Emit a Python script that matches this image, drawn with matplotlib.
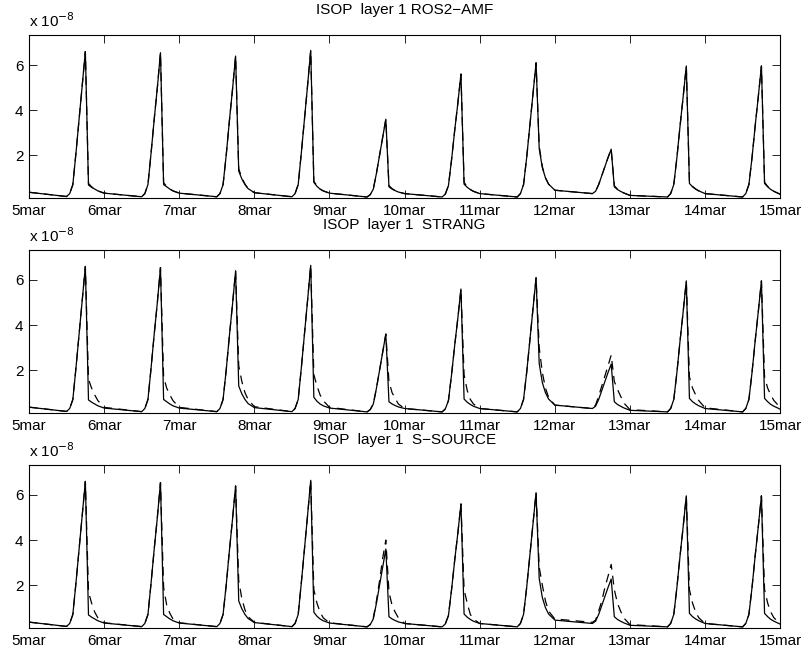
import numpy as np
import matplotlib.pyplot as plt

plt.rcParams['font.family'] = ['Liberation Sans', 'DejaVu Sans']

# sample hours within each day (5mar .. 14mar), values in units of 1e-8
HOURS = [0, 12, 13, 14, 15, 16, 17, 18, 19, 20, 21, 22]
DAY_LABELS = ['5mar', '6mar', '7mar', '8mar', '9mar', '10mar',
              '11mar', '12mar', '13mar', '14mar', '15mar']
TITLES = ['ISOP  layer 1 ROS2\u2212AMF',
          'ISOP  layer 1  STRANG',
          'ISOP  layer 1  S\u2212SOURCE']

# reference solution (solid line, same in every panel)
ref = [0.36, 0.17, 0.3, 0.7, 2.1, 3.6, 5.1, 6.6, 0.68, 0.58, 0.5, 0.42,
       0.32, 0.16, 0.3, 0.7, 2.1, 3.6, 5.0, 6.55, 0.7, 0.6, 0.5, 0.42,
       0.32, 0.16, 0.3, 0.7, 2.0, 3.5, 4.9, 6.4, 1.3, 0.95, 0.7, 0.52,
       0.34, 0.16, 0.3, 0.7, 2.1, 3.6, 5.1, 6.65, 0.8, 0.62, 0.5, 0.42,
       0.32, 0.15, 0.25, 0.5, 1.2, 2.0, 2.8, 3.6, 0.6, 0.5, 0.43, 0.37,
       0.3, 0.15, 0.28, 0.65, 1.8, 3.1, 4.3, 5.6, 0.72, 0.58, 0.48, 0.4,
       0.3, 0.15, 0.3, 0.7, 1.9, 3.3, 4.7, 6.1, 2.3, 1.45, 1.0, 0.72,
       0.45, 0.3, 0.4, 0.7, 1.1, 1.5, 1.9, 2.27, 0.6, 0.48, 0.4, 0.33,
       0.22, 0.15, 0.3, 0.7, 1.9, 3.3, 4.6, 5.96, 0.75, 0.6, 0.5, 0.42,
       0.3, 0.15, 0.3, 0.7, 1.9, 3.3, 4.6, 5.96, 0.75, 0.6, 0.48, 0.4,
       0.27]

ros2 = [0.36, 0.17, 0.3, 0.7, 2.1, 3.6, 5.1, 6.6, 0.75, 0.6, 0.5, 0.42,
        0.32, 0.16, 0.3, 0.7, 2.1, 3.6, 5.0, 6.55, 0.78, 0.62, 0.5, 0.42,
        0.32, 0.16, 0.3, 0.7, 2.0, 3.5, 4.9, 6.4, 1.4, 1.0, 0.72, 0.52,
        0.34, 0.16, 0.3, 0.7, 2.1, 3.6, 5.1, 6.65, 0.85, 0.64, 0.5, 0.42,
        0.32, 0.15, 0.25, 0.5, 1.2, 2.0, 2.8, 3.6, 0.65, 0.52, 0.43, 0.37,
        0.3, 0.15, 0.28, 0.65, 1.8, 3.1, 4.3, 5.6, 0.8, 0.6, 0.48, 0.4,
        0.3, 0.15, 0.3, 0.7, 1.9, 3.3, 4.7, 6.1, 2.4, 1.5, 1.0, 0.72,
        0.45, 0.3, 0.4, 0.7, 1.1, 1.5, 1.9, 2.27, 0.65, 0.5, 0.4, 0.33,
        0.22, 0.15, 0.3, 0.7, 1.9, 3.3, 4.6, 5.96, 0.8, 0.62, 0.5, 0.42,
        0.3, 0.15, 0.3, 0.7, 1.9, 3.3, 4.6, 5.96, 0.8, 0.62, 0.48, 0.4,
        0.27]

strang = [0.36, 0.17, 0.3, 0.7, 2.1, 3.6, 5.1, 6.6, 1.6, 1.2, 0.9, 0.65,
          0.35, 0.16, 0.3, 0.7, 2.1, 3.6, 5.0, 6.55, 1.7, 1.2, 0.9, 0.65,
          0.35, 0.16, 0.3, 0.7, 2.0, 3.5, 4.9, 6.4, 2.2, 1.5, 1.0, 0.7,
          0.38, 0.16, 0.3, 0.7, 2.1, 3.6, 5.1, 6.65, 1.8, 1.3, 0.9, 0.65,
          0.35, 0.15, 0.25, 0.5, 1.2, 2.0, 2.8, 3.6, 1.5, 1.0, 0.75, 0.5,
          0.3, 0.15, 0.28, 0.65, 1.8, 3.1, 4.3, 5.6, 1.8, 1.1, 0.7, 0.5,
          0.3, 0.15, 0.3, 0.7, 1.9, 3.3, 4.7, 6.1, 3.0, 1.9, 1.2, 0.8,
          0.45, 0.3, 0.45, 0.85, 1.3, 1.75, 2.2, 2.67, 1.5, 1.15, 0.85, 0.55,
          0.25, 0.15, 0.3, 0.7, 1.9, 3.3, 4.6, 5.96, 1.7, 1.2, 0.9, 0.65,
          0.33, 0.15, 0.3, 0.7, 1.9, 3.3, 4.6, 5.96, 1.7, 1.2, 0.9, 0.65,
          0.35]

ssource = [0.36, 0.17, 0.3, 0.7, 2.1, 3.6, 5.1, 6.6, 1.7, 1.2, 0.8, 0.55,
           0.33, 0.16, 0.3, 0.7, 2.1, 3.6, 5.0, 6.55, 1.9, 1.1, 0.75, 0.5,
           0.33, 0.16, 0.3, 0.7, 2.0, 3.5, 4.9, 6.4, 2.2, 1.4, 0.9, 0.6,
           0.35, 0.16, 0.3, 0.7, 2.1, 3.6, 5.1, 6.65, 1.8, 1.2, 0.8, 0.55,
           0.33, 0.15, 0.25, 0.55, 1.3, 2.2, 3.2, 4.0, 1.7, 1.1, 0.8, 0.55,
           0.3, 0.15, 0.28, 0.65, 1.8, 3.1, 4.3, 5.6, 1.8, 1.2, 0.7, 0.5,
           0.3, 0.15, 0.3, 0.7, 1.9, 3.3, 4.7, 6.1, 2.8, 2.0, 1.3, 0.85,
           0.5, 0.35, 0.45, 0.85, 1.3, 1.9, 2.4, 2.92, 1.8, 1.2, 0.85, 0.55,
           0.25, 0.15, 0.3, 0.7, 1.9, 3.3, 4.6, 5.96, 1.8, 1.2, 0.8, 0.55,
           0.3, 0.15, 0.3, 0.7, 1.9, 3.3, 4.6, 5.96, 1.8, 1.2, 0.8, 0.55,
           0.3]

# time axis in days after 5mar 00:00
t = [d + h / 24 for d in range(10) for h in HOURS] + [10]

fig = plt.figure(figsize=(8.06, 6.56), dpi=100)
bottoms = [0.698, 0.3704, 0.0427]
for title, dashed, b in zip(TITLES, [ros2, strang, ssource], bottoms):
    ax = fig.add_axes([0.036, b, 0.932, 0.2485])
    ax.plot(t, dashed, color='black', linewidth=0.9, linestyle=(0, (7, 5)))
    ax.plot(t, ref, color='black', linewidth=0.9)
    ax.set_xlim(0, 10)
    ax.set_ylim(0.1, 7.33)
    ax.set_xticks(range(11))
    ax.set_xticklabels(DAY_LABELS)
    ax.set_yticks([2, 4, 6])
    ax.tick_params(direction='in', length=6, width=0.6, top=True, right=True,
                   labelsize=11, pad=4)
    for s in ax.spines.values():
        s.set_linewidth(0.8)
    ax.set_title(title, fontsize=11, pad=15)
    ax.text(0, 1.03, 'x 10$^{-8}$', transform=ax.transAxes, fontsize=11,
            ha='left', va='bottom')

fig.savefig('out.png', dpi=100)
